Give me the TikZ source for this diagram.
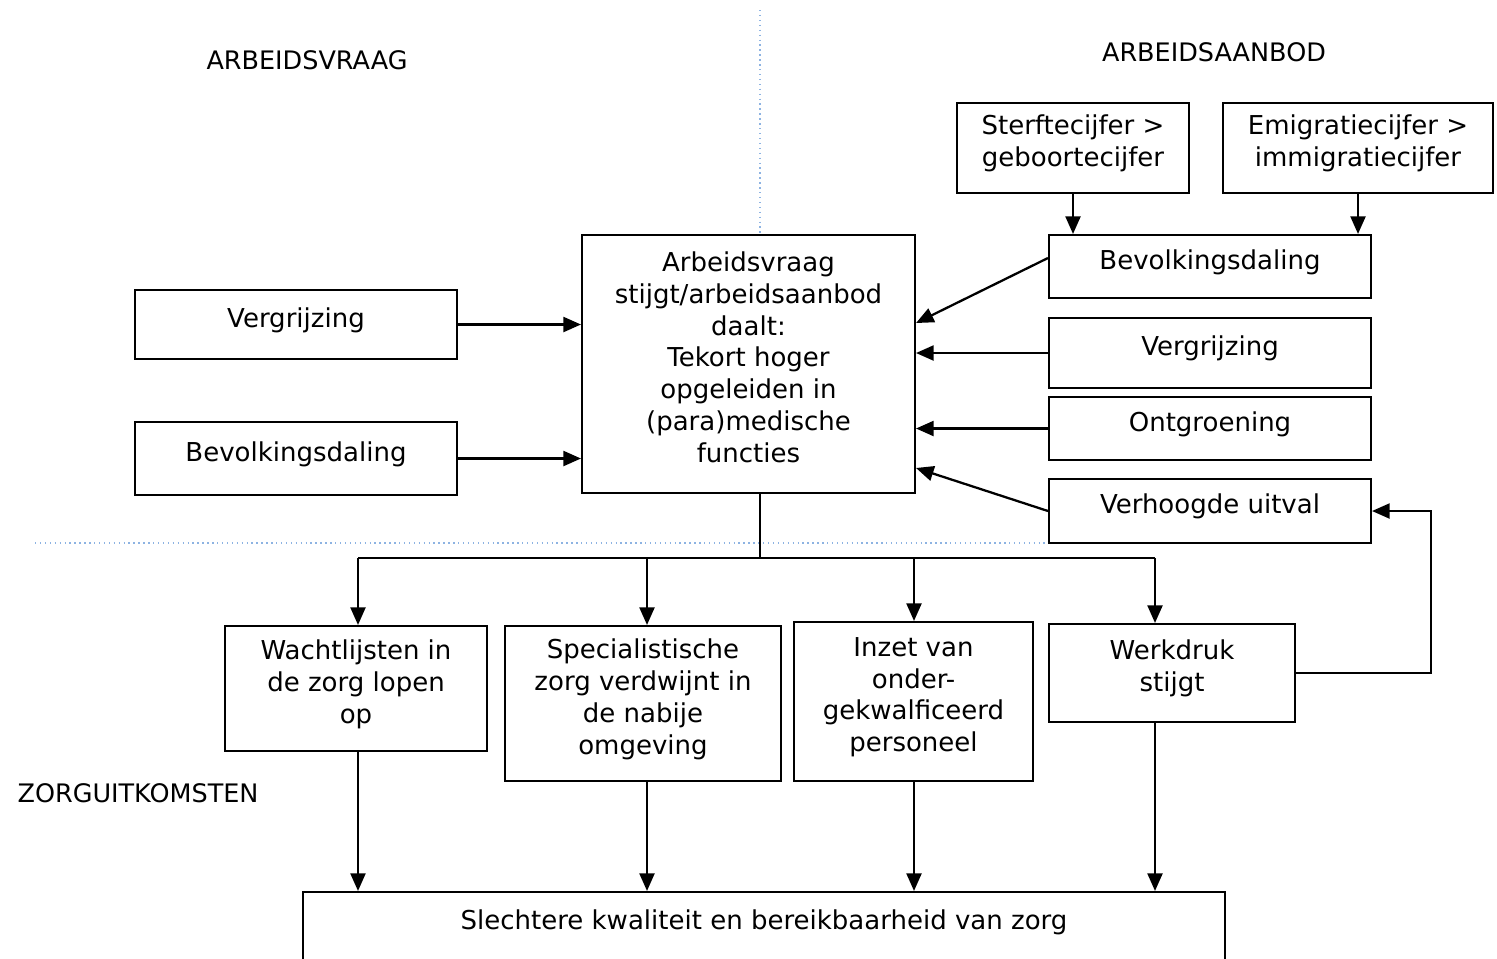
\documentclass[tikz,border=0pt]{standalone}
\usepackage{fontspec}
\setmainfont{DejaVu Sans}
\usetikzlibrary{arrows.meta,positioning}
\definecolor{sepblue}{HTML}{8DB3E2}

\begin{document}
\begin{tikzpicture}[x=0.02cm,y=-0.02cm,
  box/.style={rectangle,draw,line width=1.2pt,align=center,inner sep=2pt,text depth=0.28cm,
    font=\fontsize{14.8}{18.1}\selectfont},
  lbl/.style={font=\fontsize{14.5}{17}\selectfont},
  arr/.style={-{Triangle[length=10pt,width=8.5pt]},line width=1.3pt},
  bus/.style={line width=1.3pt},
  sep/.style={sepblue,dotted,line width=0.8pt}]
  \useasboundingbox (0,0) rectangle (1497,958);
  % separators
  \draw[sep] (760,10) -- (760,235);
  \draw[sep] (35,543) -- (1370,543);
  % headings
  \node[lbl] (hvraag) at (307,60) {ARBEIDSVRAAG};
  \node[lbl] (haanbod) at (1214,52) {ARBEIDSAANBOD};
  \node[lbl] (hzorg) at (138,793) {ZORGUITKOMSTEN};
  % centre
  \node[box,minimum width=6.66cm,minimum height=5.16cm] (kern) at (748.5,364)
    {Arbeidsvraag\\stijgt/arbeidsaanbod\\daalt:\\Tekort hoger\\opgeleiden in\\(para)medische\\functies};
  % demand side
  \node[box,minimum width=6.44cm,minimum height=1.38cm] (lverg) at (296,324.5) {Vergrijzing};
  \node[box,minimum width=6.44cm,minimum height=1.46cm] (lbev) at (296,458.5) {Bevolkingsdaling};
  % supply side
  \node[box,minimum width=4.64cm,minimum height=1.8cm] (sterf) at (1073,148) {Sterftecijfer >\\geboortecijfer};
  \node[box,minimum width=5.4cm,minimum height=1.8cm] (emig) at (1358,148) {Emigratiecijfer >\\immigratiecijfer};
  \node[box,minimum width=6.44cm,minimum height=1.26cm] (rbev) at (1210,266.5) {Bevolkingsdaling};
  \node[box,minimum width=6.44cm,minimum height=1.4cm] (rverg) at (1210,353) {Vergrijzing};
  \node[box,minimum width=6.44cm,minimum height=1.26cm] (ontg) at (1210,428.5) {Ontgroening};
  \node[box,minimum width=6.44cm,minimum height=1.28cm] (uitval) at (1210,511) {Verhoogde uitval};
  % outcomes
  \node[box,minimum width=5.24cm,minimum height=2.5cm] (wacht) at (356,688.5) {Wachtlijsten in\\de zorg lopen\\op};
  \node[box,minimum width=5.52cm,minimum height=3.1cm] (spec) at (643,703.5) {Specialistische\\zorg verdwijnt in\\de nabije\\omgeving};
  \node[box,minimum width=4.78cm,minimum height=3.18cm] (inzet) at (913.5,701.5) {Inzet van\\onder-\\gekwalficeerd\\personeel};
  \node[box,minimum width=4.92cm,minimum height=1.96cm] (werk) at (1172,673) {Werkdruk\\stijgt};
  \node[box,minimum width=18.44cm,minimum height=1.4cm] (slecht) at (764,927) {Slechtere kwaliteit en bereikbaarheid van zorg};
  % helper points
  \coordinate (split) at (760,558);
  \coordinate (bus1) at (358,558);
  \coordinate (bus2) at (647,558);
  \coordinate (bus3) at (914,558);
  \coordinate (bus4) at (1155,558);
  \coordinate (terug) at (1431,600);
  % arrows into the centre
  \draw[arr] (lverg.east) -- (lverg.east -| kern.west);
  \draw[arr] (lbev.east) -- (lbev.east -| kern.west);
  \draw[arr] ([yshift=0.17cm]rbev.west) -- ([yshift=0.82cm]kern.east);
  \draw[arr] (rverg.west) -- (rverg.west -| kern.east);
  \draw[arr] (ontg.west) -- (ontg.west -| kern.east);
  \draw[arr] (uitval.west) -- ([yshift=-2.08cm]kern.east);
  \draw[arr] (sterf.south) -- (sterf.south |- rbev.north);
  \draw[arr] (emig.south) -- (emig.south |- rbev.north);
  % centre to outcomes
  \draw[bus] (kern.south -| split) -- (split);
  \draw[bus] (bus1) -- (bus4);
  \draw[arr] (bus1) -- (bus1 |- wacht.north);
  \draw[arr] (bus2) -- (bus2 |- spec.north);
  \draw[arr] (bus3) -- (bus3 |- inzet.north);
  \draw[arr] (bus4) -- (bus4 |- werk.north);
  \draw[arr] (bus1 |- wacht.south) -- (bus1 |- slecht.north);
  \draw[arr] (bus2 |- spec.south) -- (bus2 |- slecht.north);
  \draw[arr] (bus3 |- inzet.south) -- (bus3 |- slecht.north);
  \draw[arr] (bus4 |- werk.south) -- (bus4 |- slecht.north);
  % feedback
  \draw[arr] (werk.east) -- (werk.east -| terug) |- (uitval.east);
\end{tikzpicture}
\end{document}
